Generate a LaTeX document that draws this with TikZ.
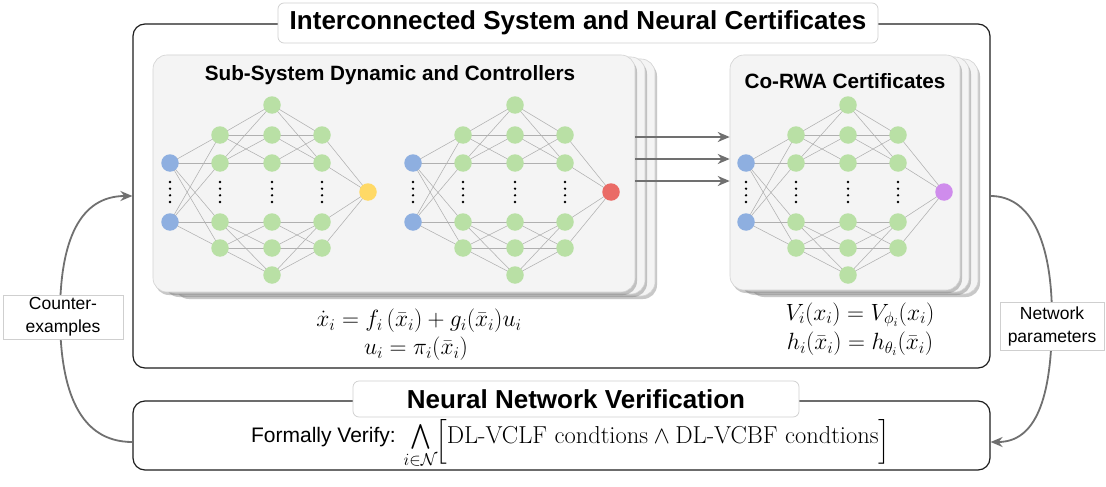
\RequirePackage{fix-cm}
\documentclass[tikz,border=0pt]{standalone}
\usepackage{amsmath}
\usepackage{fontspec}
\newfontfamily\lsans{Liberation Sans}
\usetikzlibrary{arrows.meta,shadows}

\definecolor{cin}{HTML}{8EAFE0}
\definecolor{chid}{HTML}{B9E0A5}
\definecolor{cyel}{HTML}{FFD966}
\definecolor{cred}{HTML}{EA6B66}
\definecolor{cpur}{HTML}{CF8CEC}
\definecolor{cardfill}{HTML}{F4F4F4}
\definecolor{cardline}{HTML}{D2D2D2}
\definecolor{boxline}{HTML}{CFCFCF}
\definecolor{framecol}{HTML}{1E1E1E}
\definecolor{flowcol}{HTML}{707070}
\definecolor{syncol}{HTML}{B0B0B0}

\pgfdeclarelayer{bg}
\pgfdeclarelayer{cards}
\pgfdeclarelayer{edges}
\pgfsetlayers{bg,cards,edges,main}

\tikzset{
  neuron/.style={circle, inner sep=0pt, minimum size=17.5pt, draw=none},
  syn/.style={draw=syncol, line width=0.55pt},
  card/.style={draw=cardline, fill=cardfill, line width=0.6pt, rounded corners=14pt, inner sep=0pt,
    drop shadow={shadow xshift=2pt, shadow yshift=-3pt, opacity=0.3, fill=black!70}},
  frame/.style={draw=framecol, line width=1.2pt, rounded corners=12pt, inner sep=0pt},
  titlebox/.style={draw=boxline, fill=white, line width=0.7pt, rounded corners=6pt, inner sep=0pt,
    font=\lsans\bfseries\fontsize{26}{30}\selectfont},
  cardtitle/.style={font=\lsans\bfseries\fontsize{20.7}{24}\selectfont, inner sep=0pt},
  labelbox/.style={draw=boxline, fill=white, line width=0.7pt, inner sep=0pt, align=center,
    font=\lsans\fontsize{17.5}{23}\selectfont},
  eqn/.style={font=\fontsize{23.5}{28}\selectfont, inner sep=0pt},
  flow/.style={draw=flowcol, line width=1.8pt, -{Stealth[length=12pt,width=10pt]}},
}

% a feed-forward network: #1 name prefix, #2 x of the input layer, #3 output colour
\newcommand{\nnet}[3]{%
  \begin{scope}[shift={(#2,0)}]
    \foreach \yy [count=\k] in {163,222} \node[neuron, fill=cin] (#1-0-\k) at (0,\yy) {};
    \foreach \yy [count=\k] in {135,163,222,248} \node[neuron, fill=chid] (#1-1-\k) at (50,\yy) {};
    \foreach \yy [count=\k] in {105,135,163,222,248,275} \node[neuron, fill=chid] (#1-2-\k) at (102,\yy) {};
    \foreach \yy [count=\k] in {135,163,222,248} \node[neuron, fill=chid] (#1-3-\k) at (152,\yy) {};
    \node[neuron, fill=#3] (#1-4) at (198,192) {};
    \foreach \xx in {0,50,102,152}
      \foreach \yy in {182,188.7,195.3,202}
        \fill (\xx,\yy) circle (1.3pt);
  \end{scope}
  \begin{pgfonlayer}{edges}
    \foreach \a in {1,2} \foreach \b in {1,...,4} \draw[syn] (#1-0-\a.center) -- (#1-1-\b.center);
    \foreach \a in {1,2} \foreach \b in {1,2,3} \draw[syn] (#1-1-\a.center) -- (#1-2-\b.center);
    \foreach \a in {3,4} \foreach \b in {4,5,6} \draw[syn] (#1-1-\a.center) -- (#1-2-\b.center);
    \foreach \a in {1,2,3} \foreach \b in {1,2} \draw[syn] (#1-2-\a.center) -- (#1-3-\b.center);
    \foreach \a in {4,5,6} \foreach \b in {3,4} \draw[syn] (#1-2-\a.center) -- (#1-3-\b.center);
    \foreach \a in {1,...,4} \draw[syn] (#1-3-\a.center) -- (#1-4.center);
  \end{pgfonlayer}
}

\begin{document}
\begin{tikzpicture}[x=1pt, y=-1pt]
\useasboundingbox (0,0) rectangle (1106,487);
\begin{pgfonlayer}{bg}
  \fill[white] (0,0) rectangle (1106,487);
\end{pgfonlayer}

% outer frames
\node[frame, minimum width=857pt, minimum height=344pt] (outer) at (561.5,196) {};
\node[frame, minimum width=857pt, minimum height=69pt] (bot) at (561.5,435.5) {};

% stacked cards
\begin{pgfonlayer}{cards}
  \foreach \d in {2,1,0}
    \node[card, minimum width=482pt, minimum height=237pt] (subcard\d) at (394+10*\d,173.5+2*\d) {};
  \foreach \d in {2,1,0}
    \node[card, minimum width=230pt, minimum height=235pt] (certcard\d) at (845+9*\d,172.5+2*\d) {};
\end{pgfonlayer}

\node[cardtitle] (subtitle) at (390,75) {Sub-System Dynamic and Controllers};
\node[cardtitle] (certtitle) at (845,81) {Co-RWA Certificates};

% networks
\nnet{dyn}{170}{cyel}
\nnet{ctl}{413}{cred}
\nnet{crt}{746}{cpur}

% arrows between the cards
\foreach \yy in {137,159,181}
  \draw[flow] (subcard0.east |- 0,\yy) -- (certcard0.west |- 0,\yy);

% equations
\node[eqn] (eqf) at (419,321) {$\dot{x}_i = f_i\,(\bar{x}_i) + g_i(\bar{x}_i)u_i$};
\node[eqn] (eqpi) at (416,349) {$u_i = \pi_i(\bar{x}_i)$};
\node[eqn] (eqv) at (860,315) {$V_i(x_i) = V_{\phi_i}(x_i)$};
\node[eqn] (eqh) at (860,344) {$h_i(\bar{x}_i) = h_{\theta_i}(\bar{x}_i)$};

% feedback loops
\draw[flow] (bot.west |- 0,442) .. controls (80,442) and (60,392) .. (60,315)
  .. controls (60,240) and (80,196) .. (outer.west |- 0,196);
\draw[flow] (outer.east |- 0,196) .. controls (1030,196) and (1052,240) .. (1052,318)
  .. controls (1052,400) and (1035,442) .. (bot.east |- 0,442);

\node[labelbox, minimum width=120pt, minimum height=44pt] (cex) at (63,317) {Counter-\\examples};
\node[labelbox, minimum width=104pt, minimum height=48pt] (npar) at (1052,326) {Network\\parameters};

% titles
\node[titlebox, minimum width=600pt, minimum height=40pt] (maintitle) at (578,23) {Interconnected System and Neural Certificates};
\node[titlebox, minimum width=446pt, minimum height=36pt] (vertitle) at (576,399) {Neural Network Verification};

% verification condition
\node[anchor=base east, inner sep=0pt, font=\lsans\fontsize{21}{24}\selectfont] (fv) at (396,442) {Formally Verify:};
\node[anchor=base west, inner sep=0pt, font=\fontsize{24.5}{28}\selectfont] (cond) at (410,443)
  {$\bigwedge\limits_{\makebox[0pt]{$\scriptstyle i\in\mathcal{N}$}}
   \raisebox{-5pt}{$\Big[$}\text{DL-VCLF condtions} \wedge \text{DL-VCBF condtions}\raisebox{-5pt}{$\Big]$}$};
\end{tikzpicture}
\end{document}
